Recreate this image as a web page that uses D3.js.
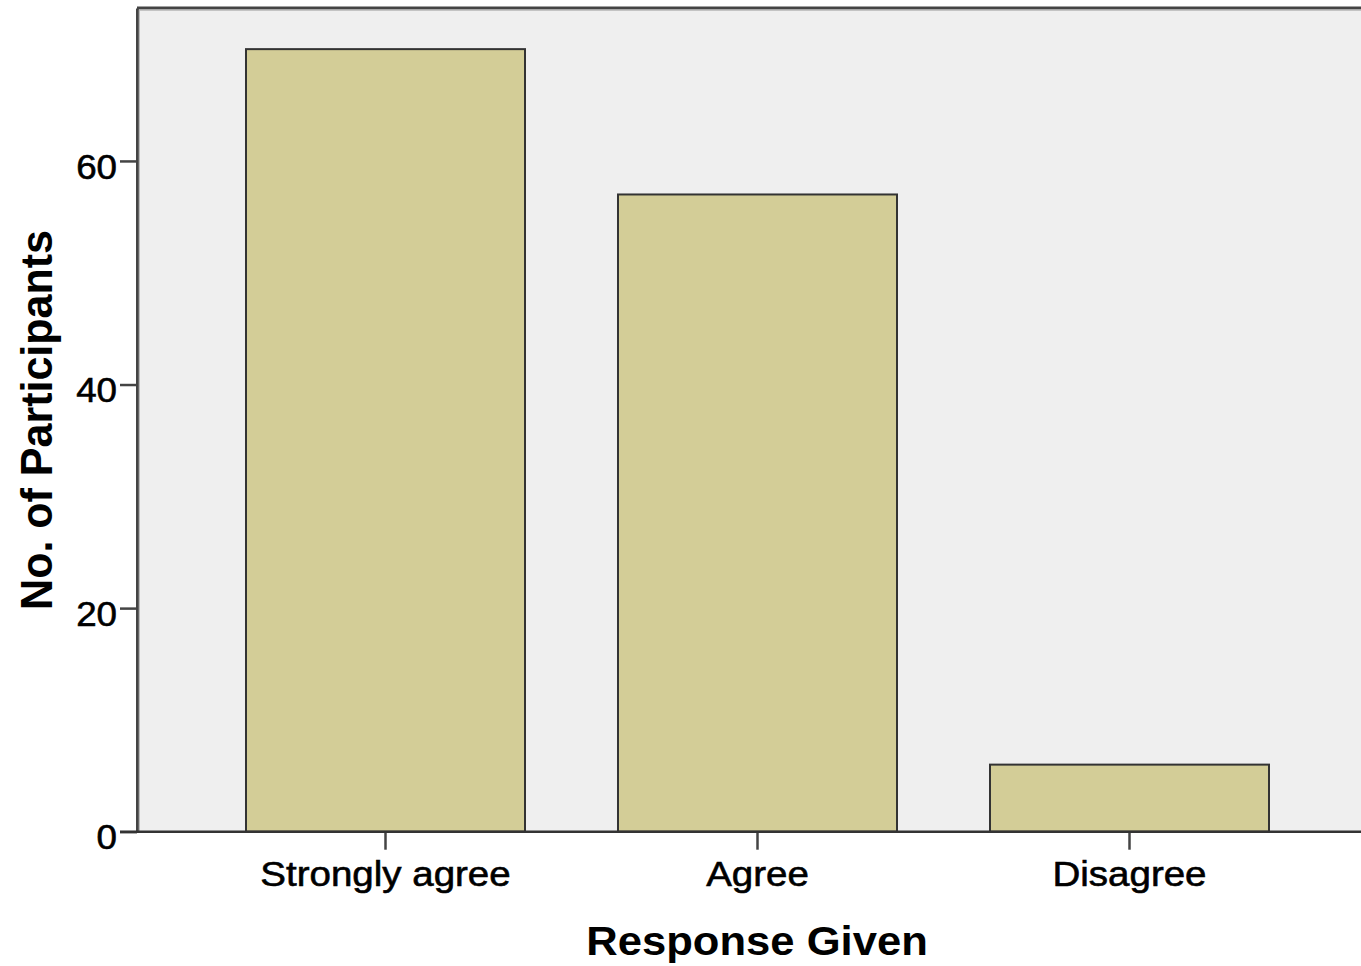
<!DOCTYPE html>
<html>
<head>
<meta charset="utf-8">
<script src="https://cdn.jsdelivr.net/npm/d3@7"></script>
<style>
  html, body { margin: 0; padding: 0; background: #ffffff; overflow: hidden; }
  svg { display: block; }
</style>
</head>
<body>
<svg id="chart" width="1361" height="966"></svg>
<script>
// ---- data ----
const categories = ["Strongly agree", "Agree", "Disagree"];
const counts = [70, 57, 6];
const yTickValues = [0, 20, 40, 60];
const yMax = 73.68;
const xTitle = "Response Given";
const yTitle = "No. of Participants";

// ---- layout ----
const W = 1361, H = 966;
const plotLeft = 137, plotRight = 1378, plotTop = 8, plotBottom = 831.7;
const font = "'Liberation Sans', Arial, sans-serif";
const sx = 1.1;   // horizontal stretch of x tick text
const syx = 1.05; // horizontal stretch of y tick text

const svg = d3.select("#chart");

const x = d3.scaleBand()
  .domain(categories)
  .range([plotLeft, plotRight])
  .paddingInner(0.25)
  .paddingOuter(0.293);

const y = d3.scaleLinear()
  .domain([0, yMax])
  .range([plotBottom, plotTop]);

// plot background
svg.append("rect")
  .attr("x", plotLeft).attr("y", plotTop)
  .attr("width", plotRight - plotLeft).attr("height", plotBottom - plotTop)
  .attr("fill", "#efefef");

// bars
svg.append("g").selectAll("rect")
  .data(categories.map((c, i) => ({ c, v: counts[i] })))
  .join("rect")
  .attr("x", d => x(d.c))
  .attr("y", d => y(d.v))
  .attr("width", x.bandwidth())
  .attr("height", d => y(0) - y(d.v))
  .attr("fill", "#d3cd97")
  .attr("stroke", "#333333")
  .attr("stroke-width", 2);

// top frame line
svg.append("line")
  .attr("x1", plotLeft).attr("x2", plotRight)
  .attr("y1", plotTop).attr("y2", plotTop)
  .attr("stroke", "#444444").attr("stroke-width", 3);
svg.append("line")
  .attr("x1", plotLeft).attr("x2", plotRight)
  .attr("y1", plotTop + 2.2).attr("y2", plotTop + 2.2)
  .attr("stroke", "#b5b5b5").attr("stroke-width", 1.2);

// y axis
const yAxis = d3.axisLeft(y)
  .tickValues(yTickValues)
  .tickSize(17)
  .tickSizeOuter(0)
  .tickFormat(d3.format("d"));

const gy = svg.append("g")
  .attr("transform", `translate(${plotLeft},0)`)
  .call(yAxis);
gy.select(".domain").attr("stroke", "#444444").attr("stroke-width", 3);
gy.selectAll(".tick line").attr("stroke", "#444444").attr("stroke-width", 2.5);
gy.selectAll(".tick text")
  .attr("x", -20 / syx)
  .attr("dy", "0.49em")
  .attr("transform", `scale(${syx},1)`)
  .attr("font-family", font).attr("font-size", 35)
  .attr("fill", "#000").attr("stroke", "#000").attr("stroke-width", 0.6);
// light inner edge of the left frame
svg.append("line")
  .attr("x1", plotLeft + 2.3).attr("x2", plotLeft + 2.3)
  .attr("y1", plotTop + 1.5).attr("y2", plotBottom)
  .attr("stroke", "#b5b5b5").attr("stroke-width", 1.2);

// x axis
const xAxis = d3.axisBottom(x).tickSize(18).tickPadding(11);
const gx = svg.append("g")
  .attr("transform", `translate(0,${plotBottom})`)
  .call(xAxis);
gx.select(".domain").remove();
gx.append("line")
  .attr("x1", 120).attr("x2", W)
  .attr("y1", 0).attr("y2", 0)
  .attr("stroke", "#333333").attr("stroke-width", 2.5);
gx.selectAll(".tick line").attr("stroke", "#444444").attr("stroke-width", 2.5);
gx.selectAll(".tick text")
  .attr("transform", `scale(${sx},1)`)
  .attr("font-family", font).attr("font-size", 35)
  .attr("fill", "#000").attr("stroke", "#000").attr("stroke-width", 0.6);

// axis titles
svg.append("text")
  .attr("transform", `translate(757,955) scale(1.09,1)`)
  .attr("text-anchor", "middle")
  .attr("font-family", font).attr("font-weight", "bold").attr("font-size", 40)
  .attr("fill", "#000")
  .text(xTitle);

svg.append("text")
  .attr("transform", `translate(51.5,420) rotate(-90) scale(1,1.05)`)
  .attr("text-anchor", "middle")
  .attr("font-family", font).attr("font-weight", "bold").attr("font-size", 43)
  .attr("fill", "#000")
  .text(yTitle);
</script>
</body>
</html>
